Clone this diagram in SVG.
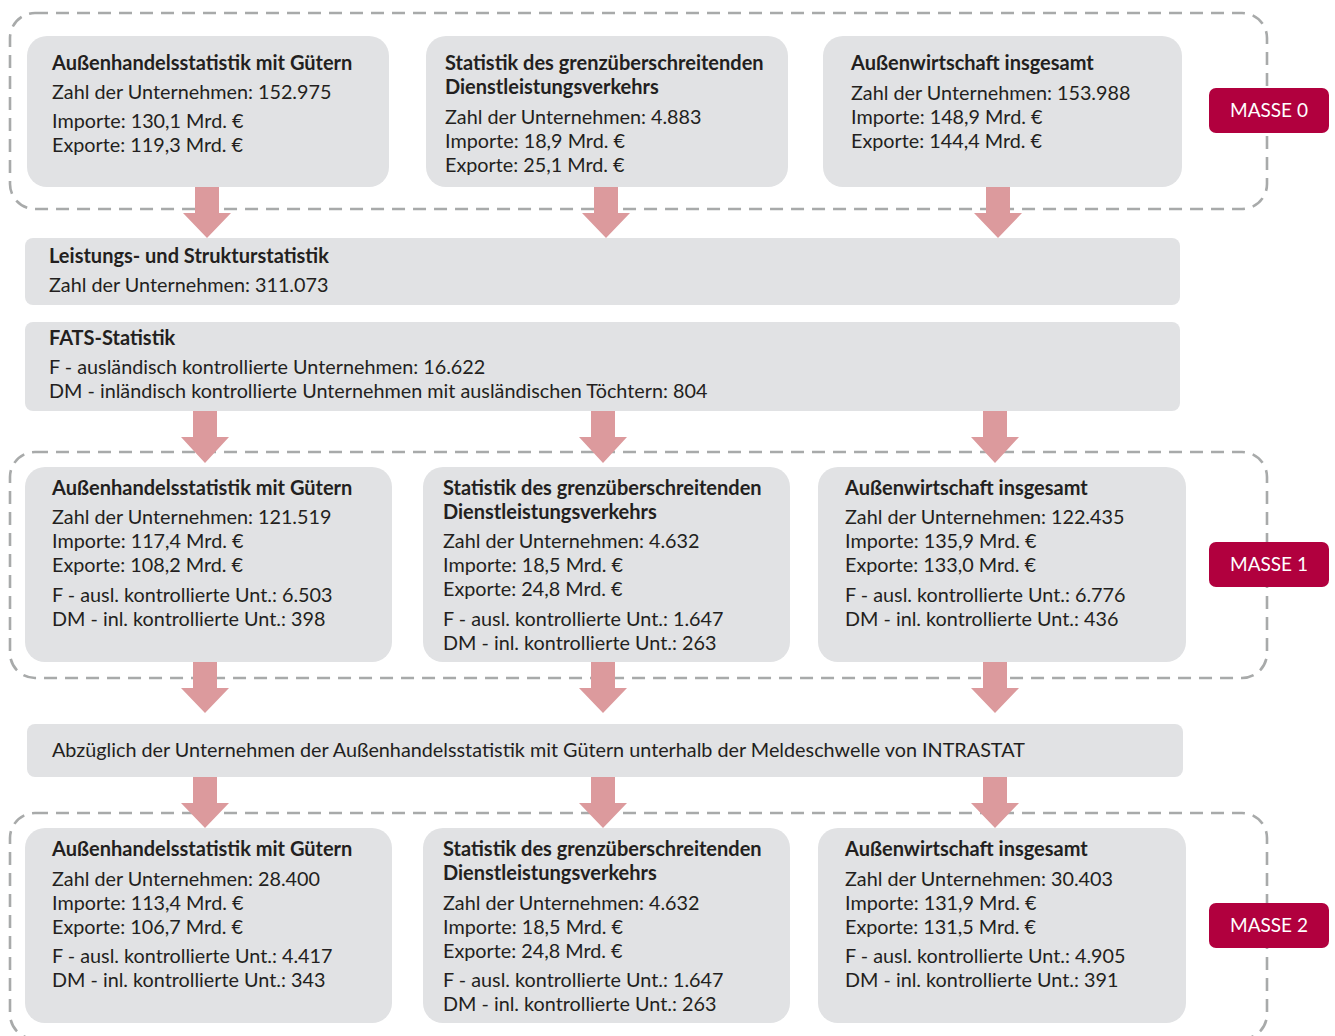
<svg xmlns="http://www.w3.org/2000/svg" width="1335" height="1036" viewBox="0 0 1335 1036">
<style>
.bg{fill:#ffffff}
.grp{fill:none;stroke:#a8aaaa;stroke-width:2.6;stroke-dasharray:13 8}
.box{fill:#e1e2e4}
.arr{fill:#dc9a9d}
.tag{fill:#b1003e}
text{font-family:Lato,"Liberation Sans",sans-serif;font-size:19.8px;fill:#231f20}
.b{font-weight:bold;font-size:20px}
.tt{fill:#ffffff;text-anchor:middle;font-size:19px}
</style>
<rect class="bg" x="0" y="0" width="1335" height="1036"/>
<g id="groups">
<rect class="grp" x="10" y="13" width="1257" height="196" rx="25"/>
<rect class="grp" x="10" y="452" width="1257" height="226" rx="25"/>
<rect class="grp" x="10" y="813" width="1257" height="226" rx="25"/>
</g>
<g id="m0-goods"><rect class="box" x="27" y="36" width="362" height="151" rx="20"/>
<text class="b" x="52" y="70">Außenhandelsstatistik mit Gütern</text>
<text x="52" y="99">Zahl der Unternehmen: 152.975</text>
<text x="52" y="128">Importe: 130,1 Mrd. €</text>
<text x="52" y="152">Exporte: 119,3 Mrd. €</text></g>
<g id="m0-services"><rect class="box" x="426" y="36" width="362" height="151" rx="20"/>
<text class="b" x="445" y="70">Statistik des grenzüberschreitenden</text>
<text class="b" x="445" y="94">Dienstleistungsverkehrs</text>
<text x="445" y="124">Zahl der Unternehmen: 4.883</text>
<text x="445" y="148">Importe: 18,9 Mrd. €</text>
<text x="445" y="172">Exporte: 25,1 Mrd. €</text></g>
<g id="m0-total"><rect class="box" x="823" y="36" width="359" height="151" rx="20"/>
<text class="b" x="851" y="70">Außenwirtschaft insgesamt</text>
<text x="851" y="100">Zahl der Unternehmen: 153.988</text>
<text x="851" y="124">Importe: 148,9 Mrd. €</text>
<text x="851" y="148">Exporte: 144,4 Mrd. €</text></g>
<g id="masse0"><rect class="tag" x="1209" y="88" width="120" height="45" rx="7"/><text class="tt" x="1269" y="117">MASSE 0</text></g>

<g id="leistung"><rect class="box" x="25" y="238" width="1155" height="67" rx="8"/>
<text class="b" x="49" y="263">Leistungs- und Strukturstatistik</text>
<text x="49" y="292">Zahl der Unternehmen: 311.073</text></g>
<g id="fats"><rect class="box" x="25" y="322" width="1155" height="89" rx="8"/>
<text class="b" x="49" y="345">FATS-Statistik</text>
<text x="49" y="374">F - ausländisch kontrollierte Unternehmen: 16.622</text>
<text x="49" y="398">DM - inländisch kontrollierte Unternehmen mit ausländischen Töchtern: 804</text></g>

<g id="m1-goods"><rect class="box" x="25" y="467" width="367" height="195" rx="20"/>
<text class="b" x="52" y="495">Außenhandelsstatistik mit Gütern</text>
<text x="52" y="524">Zahl der Unternehmen: 121.519</text>
<text x="52" y="548">Importe: 117,4 Mrd. €</text>
<text x="52" y="572">Exporte: 108,2 Mrd. €</text>
<text x="52" y="602">F - ausl. kontrollierte Unt.: 6.503</text>
<text x="52" y="626">DM - inl. kontrollierte Unt.: 398</text></g>
<g id="m1-services"><rect class="box" x="423" y="467" width="367" height="195" rx="20"/>
<text class="b" x="443" y="495">Statistik des grenzüberschreitenden</text>
<text class="b" x="443" y="519">Dienstleistungsverkehrs</text>
<text x="443" y="548">Zahl der Unternehmen: 4.632</text>
<text x="443" y="572">Importe: 18,5 Mrd. €</text>
<text x="443" y="596">Exporte: 24,8 Mrd. €</text>
<text x="443" y="626">F - ausl. kontrollierte Unt.: 1.647</text>
<text x="443" y="650">DM - inl. kontrollierte Unt.: 263</text></g>
<g id="m1-total"><rect class="box" x="818" y="467" width="368" height="195" rx="20"/>
<text class="b" x="845" y="495">Außenwirtschaft insgesamt</text>
<text x="845" y="524">Zahl der Unternehmen: 122.435</text>
<text x="845" y="548">Importe: 135,9 Mrd. €</text>
<text x="845" y="572">Exporte: 133,0 Mrd. €</text>
<text x="845" y="602">F - ausl. kontrollierte Unt.: 6.776</text>
<text x="845" y="626">DM - inl. kontrollierte Unt.: 436</text></g>
<g id="masse1"><rect class="tag" x="1209" y="542" width="120" height="45" rx="7"/><text class="tt" x="1269" y="571">MASSE 1</text></g>

<g id="abzug"><rect class="box" x="27" y="724" width="1156" height="53" rx="8"/>
<text x="52" y="757">Abzüglich der Unternehmen der Außenhandelsstatistik mit Gütern unterhalb der Meldeschwelle von INTRASTAT</text></g>

<g id="m2-goods"><rect class="box" x="25" y="828" width="367" height="195" rx="20"/>
<text class="b" x="52" y="856">Außenhandelsstatistik mit Gütern</text>
<text x="52" y="886">Zahl der Unternehmen: 28.400</text>
<text x="52" y="910">Importe: 113,4 Mrd. €</text>
<text x="52" y="934">Exporte: 106,7 Mrd. €</text>
<text x="52" y="963">F - ausl. kontrollierte Unt.: 4.417</text>
<text x="52" y="987">DM - inl. kontrollierte Unt.: 343</text></g>
<g id="m2-services"><rect class="box" x="423" y="828" width="367" height="195" rx="20"/>
<text class="b" x="443" y="856">Statistik des grenzüberschreitenden</text>
<text class="b" x="443" y="880">Dienstleistungsverkehrs</text>
<text x="443" y="910">Zahl der Unternehmen: 4.632</text>
<text x="443" y="934">Importe: 18,5 Mrd. €</text>
<text x="443" y="958">Exporte: 24,8 Mrd. €</text>
<text x="443" y="987">F - ausl. kontrollierte Unt.: 1.647</text>
<text x="443" y="1011">DM - inl. kontrollierte Unt.: 263</text></g>
<g id="m2-total"><rect class="box" x="818" y="828" width="368" height="195" rx="20"/>
<text class="b" x="845" y="856">Außenwirtschaft insgesamt</text>
<text x="845" y="886">Zahl der Unternehmen: 30.403</text>
<text x="845" y="910">Importe: 131,9 Mrd. €</text>
<text x="845" y="934">Exporte: 131,5 Mrd. €</text>
<text x="845" y="963">F - ausl. kontrollierte Unt.: 4.905</text>
<text x="845" y="987">DM - inl. kontrollierte Unt.: 391</text></g>
<g id="masse2"><rect class="tag" x="1209" y="903" width="120" height="45" rx="7"/><text class="tt" x="1269" y="932">MASSE 2</text></g>

<g id="connectors">
<polygon class="arr" points="195,187 219,187 219,213 231,213 207,238 183,213 195,213"/>
<polygon class="arr" points="594,187 618,187 618,213 630,213 606,238 582,213 594,213"/>
<polygon class="arr" points="986,187 1010,187 1010,213 1022,213 998,238 974,213 986,213"/>
<polygon class="arr" points="193,411 217,411 217,437 229,437 205,463 181,437 193,437"/>
<polygon class="arr" points="591,411 615,411 615,437 627,437 603,463 579,437 591,437"/>
<polygon class="arr" points="983,411 1007,411 1007,437 1019,437 995,463 971,437 983,437"/>
<polygon class="arr" points="193,662 217,662 217,688 229,688 205,713 181,688 193,688"/>
<polygon class="arr" points="591,662 615,662 615,688 627,688 603,713 579,688 591,688"/>
<polygon class="arr" points="983,662 1007,662 1007,688 1019,688 995,713 971,688 983,688"/>
<polygon class="arr" points="193,777 217,777 217,803 229,803 205,828 181,803 193,803"/>
<polygon class="arr" points="591,777 615,777 615,803 627,803 603,828 579,803 591,803"/>
<polygon class="arr" points="983,777 1007,777 1007,803 1019,803 995,828 971,803 983,803"/>
</g>
</svg>
